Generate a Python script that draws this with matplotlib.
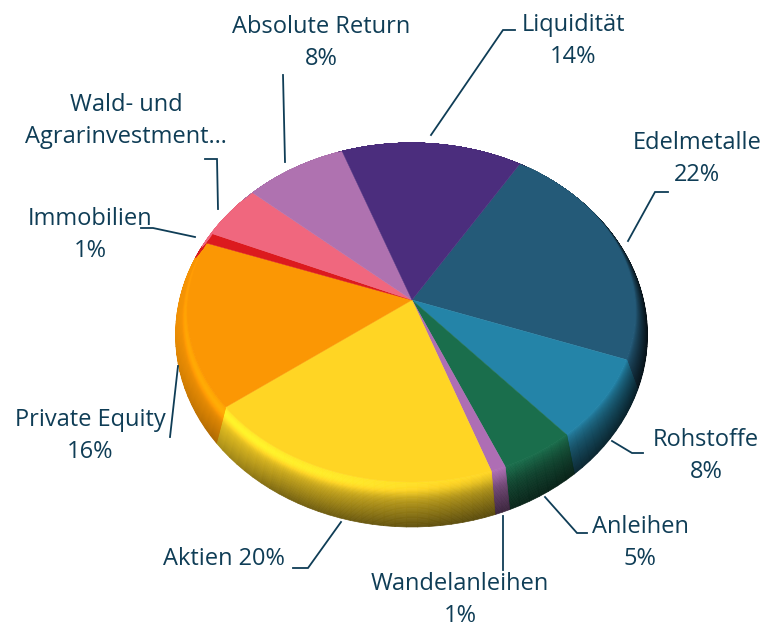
import numpy as np
import matplotlib
matplotlib.use("Agg")
import matplotlib.pyplot as plt
from matplotlib.collections import PolyCollection
from matplotlib.colors import to_rgb

# werte im uhrzeigersinn, start bei Edelmetalle
names = ["Edelmetalle", "Rohstoffe", "Anleihen", "Wandelanleihen", "Aktien",
         "Private Equity", "Immobilien", "Wald- und Agrarinvestment", "Absolute Return", "Liquidität"]
values = [22, 8, 5, 1, 20, 16, 1, 5, 8, 14]
colors = ["#245A78", "#2484A8", "#1A6E4C", "#AE6EB4", "#FFD524",
          "#FB9704", "#DC1A1E", "#F0677E", "#AF72B0", "#4B2D7D"]

label_text = ["Absolute Return\n8%", "Liquidität\n14%", "Edelmetalle\n22%", "Rohstoffe\n8%", "Anleihen\n5%",
              "Wandelanleihen\n1%", "Aktien 20%", "Private Equity\n16%", "Immobilien\n1%", "Wald- und\nAgrarinvestment…"]
label_pos = [(321, 43), (573, 41), (697, 159), (706, 456), (640, 543),
             (460, 600), (224, 559), (90, 436), (90, 235), (126, 121)]

leaders = [
    [(283, 75), (285, 162)],
    [(515, 30), (503, 30), (431, 135)],
    [(668, 192), (655, 192), (628, 241)],
    [(612, 441), (632, 453), (643, 453)],
    [(545, 497), (577, 533), (587, 533)],
    [(503, 516), (503, 570)],
    [(341, 522), (308, 568), (293, 568)],
    [(178, 366), (170, 437)],
    [(141, 228), (153, 228), (195, 237)],
    [(205, 159), (217, 159), (218, 209)],
]

TEXT = "#0F3D56"
START = 59.0
N_LAYERS = 36


def project(theta, t):
    # t=1 oberseite, t=0 aeussere kante, leicht perspektivisch
    top = 143.0
    bot = 527 + (482 - 527) * t
    apex = 322 + (300 - 322) * t
    half = 236 - 12 * t
    a_up = apex - top
    a_dn = bot - apex
    k = (a_dn - a_up) / (a_dn + a_up)
    b = a_up * (1 + k)
    a = half * np.sqrt(1 - k ** 2)
    u, v = np.cos(np.radians(theta)), np.sin(np.radians(theta))
    w = 1 + k * v
    return 411.5 + a * u / w, apex - b * v / w, apex


def shade(rgb, s, theta):
    th = (theta + 180) % 360 - 180
    d = np.interp(th, [-180, -150, -120, -90, -60, -30, 0, 30, 60, 90, 120, 150, 180],
                  [.95, .75, .45, .38, .32, .26, .15, .25, .5, .8, .9, 1.0, .95])
    expo = np.interp(th, [-130, -60, 30], [1.2, .6, .8])
    hl = max(0.0, np.cos(np.radians(th + 125))) ** 1.5
    bump = np.exp(-((s - .16) / .17) ** 2)
    f = (1 + (d - 1) * s ** expo) * (1 + .2 * hl * bump)
    return tuple(np.clip(np.array(rgb) * f, 0, 1))


fig = plt.figure(figsize=(7.76, 6.27), dpi=100)
ax = fig.add_axes([0, 0, 1, 1])
ax.set_xlim(0, 776)
ax.set_ylim(627, 0)
ax.axis("off")

bounds = START - np.cumsum([0] + values) * 3.6
levels = np.linspace(0, 1, N_LAYERS + 1)

quads, quad_cols = [], []
for i in range(len(values)):
    rgb = to_rgb(colors[i])
    n = max(2, int(abs(bounds[i] - bounds[i + 1]) / 2.5))
    th = np.linspace(bounds[i], bounds[i + 1], n + 1)
    for j in range(N_LAYERS):
        t0, t1 = levels[j], levels[j + 1]
        for m in range(n):
            x0, y0, _ = project(th[m], t0)
            x1, y1, _ = project(th[m + 1], t0)
            x2, y2, _ = project(th[m + 1], t1)
            x3, y3, _ = project(th[m], t1)
            quads.append([(x0, y0), (x1, y1), (x2, y2), (x3, y3)])
            quad_cols.append(shade(rgb, 1 - (t0 + t1) / 2, (th[m] + th[m + 1]) / 2))
ax.add_collection(PolyCollection(quads, facecolors=quad_cols, edgecolors=quad_cols, linewidths=.5, zorder=1))

# flache oberseite
for i in range(len(values)):
    th = np.linspace(bounds[i], bounds[i + 1], 60)
    xs, ys, apex = project(th, 1.0)
    ax.fill(np.r_[412, xs], np.r_[apex, ys], color=colors[i], lw=.3, zorder=2)

for pts in leaders:
    xs, ys = zip(*pts)
    ax.plot(xs, ys, color=TEXT, lw=1.3, solid_joinstyle="miter", zorder=3)

for txt, (x, y) in zip(label_text, label_pos):
    ax.text(x, y, txt, color=TEXT, fontsize=17, family="Open Sans", ha="center", va="center",
            linespacing=1.47, zorder=4)

fig.savefig("out.png", dpi=100)
